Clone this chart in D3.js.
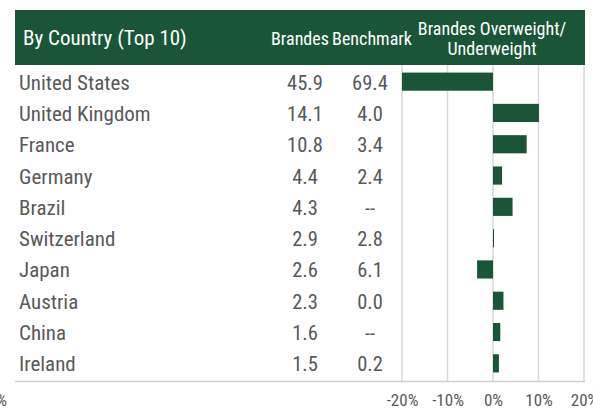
<!DOCTYPE html>
<html><head><meta charset="utf-8">
<script src="https://cdn.jsdelivr.net/npm/d3@7"></script>
<style>
body{margin:0;background:#fff}
text{font-family:Roboto,"Noto Sans",sans-serif;font-stretch:75%}
</style>
</head><body><svg id="chart" width="593" height="411"></svg>
<script>
// values
const countries = ["United States","United Kingdom","France","Germany","Brazil",
    "Switzerland","Japan","Austria","China","Ireland"];
const brandes = [45.9, 14.1, 10.8, 4.4, 4.3, 2.9, 2.6, 2.3, 1.6, 1.5];
const benchmark = [69.4, 4.0, 3.4, 2.4, null, 2.8, 6.1, 0.0, null, 0.2];
const ticks = [-20, -10, 0, 10, 20];

const green = "#1b5538";
const grey = "#595959";

const rows = countries.map((c, i) => ({
    country: c,
    brandes: brandes[i],
    benchmark: benchmark[i],
    active: brandes[i] - (benchmark[i] == null ? 0 : benchmark[i])
}));

const svg = d3.select("#chart");

const y = d3.scaleBand()
    .domain(countries)
    .range([66, 379])
    .paddingInner(0.42)
    .paddingOuter(0.21);

const x = d3.scaleLinear()
    .domain([-20, 20])
    .range([402, 584])
    .clamp(true);

// header band
svg.append("rect")
    .attr("x", 15).attr("y", 10)
    .attr("width", 570).attr("height", 55)
    .attr("fill", green);

svg.append("text")
    .attr("x", 23).attr("y", 45)
    .attr("fill", "#fff")
    .style("font-size", "21px")
    .text("By Country (Top 10)");

svg.append("text")
    .attr("x", 300).attr("y", 45)
    .attr("text-anchor", "middle")
    .attr("fill", "#fff")
    .style("font-size", "18px")
    .text("Brandes");

svg.append("text")
    .attr("x", 372).attr("y", 45)
    .attr("text-anchor", "middle")
    .attr("fill", "#fff")
    .style("font-size", "18px")
    .text("Benchmark");

const hdr = svg.append("text")
    .attr("text-anchor", "middle")
    .attr("fill", "#fff")
    .style("font-size", "18px");
hdr.append("tspan").attr("x", 492).attr("y", 35).text("Brandes Overweight/");
hdr.append("tspan").attr("x", 492).attr("y", 55).text("Underweight");

// grid
svg.append("g")
    .selectAll("line")
    .data(ticks)
    .join("line")
    .attr("x1", d => x(d)).attr("x2", d => x(d))
    .attr("y1", 65).attr("y2", 381)
    .attr("stroke", "#d9d9d9")
    .attr("stroke-width", 1.5);

svg.append("line")
    .attr("x1", 15).attr("x2", 585)
    .attr("y1", 381.5).attr("y2", 381.5)
    .attr("stroke", "#d0d0d0")
    .attr("stroke-width", 1.5);

// bars
svg.append("g")
    .selectAll("rect")
    .data(rows)
    .join("rect")
    .attr("x", d => Math.min(x(0), x(d.active)))
    .attr("y", d => y(d.country))
    .attr("width", d => Math.max(1, Math.abs(x(d.active) - x(0))))
    .attr("height", y.bandwidth())
    .attr("fill", green);

// table text
const mid = d => y(d.country) + y.bandwidth() / 2 + 8;

svg.append("g")
    .selectAll("text")
    .data(rows)
    .join("text")
    .attr("x", 19)
    .attr("y", mid)
    .attr("fill", grey)
    .style("font-size", "21px")
    .text(d => d.country);

svg.append("g")
    .selectAll("text")
    .data(rows)
    .join("text")
    .attr("x", 305)
    .attr("y", mid)
    .attr("text-anchor", "middle")
    .attr("fill", grey)
    .style("font-size", "20.5px")
    .text(d => d.brandes.toFixed(1));

svg.append("g")
    .selectAll("text")
    .data(rows)
    .join("text")
    .attr("x", 370)
    .attr("y", mid)
    .attr("text-anchor", "middle")
    .attr("fill", grey)
    .style("font-size", "20.5px")
    .text(d => d.benchmark == null ? "--" : d.benchmark.toFixed(1));

// x axis labels
const axis = d3.axisBottom(x)
    .tickValues(ticks)
    .tickSize(0)
    .tickPadding(0)
    .tickFormat(d => d + "%");

svg.append("g")
    .attr("transform", "translate(0,394)")
    .call(axis)
    .call(g => g.select(".domain").remove())
    .call(g => g.selectAll("text")
        .attr("fill", grey)
        .style("font-family", null)
        .style("font-size", "17px"));

// stray tick label cut off at the left edge
svg.append("text")
    .attr("x", 7).attr("y", 406)
    .attr("text-anchor", "end")
    .attr("fill", grey)
    .style("font-size", "17px")
    .text("-30%");
</script></body></html>
